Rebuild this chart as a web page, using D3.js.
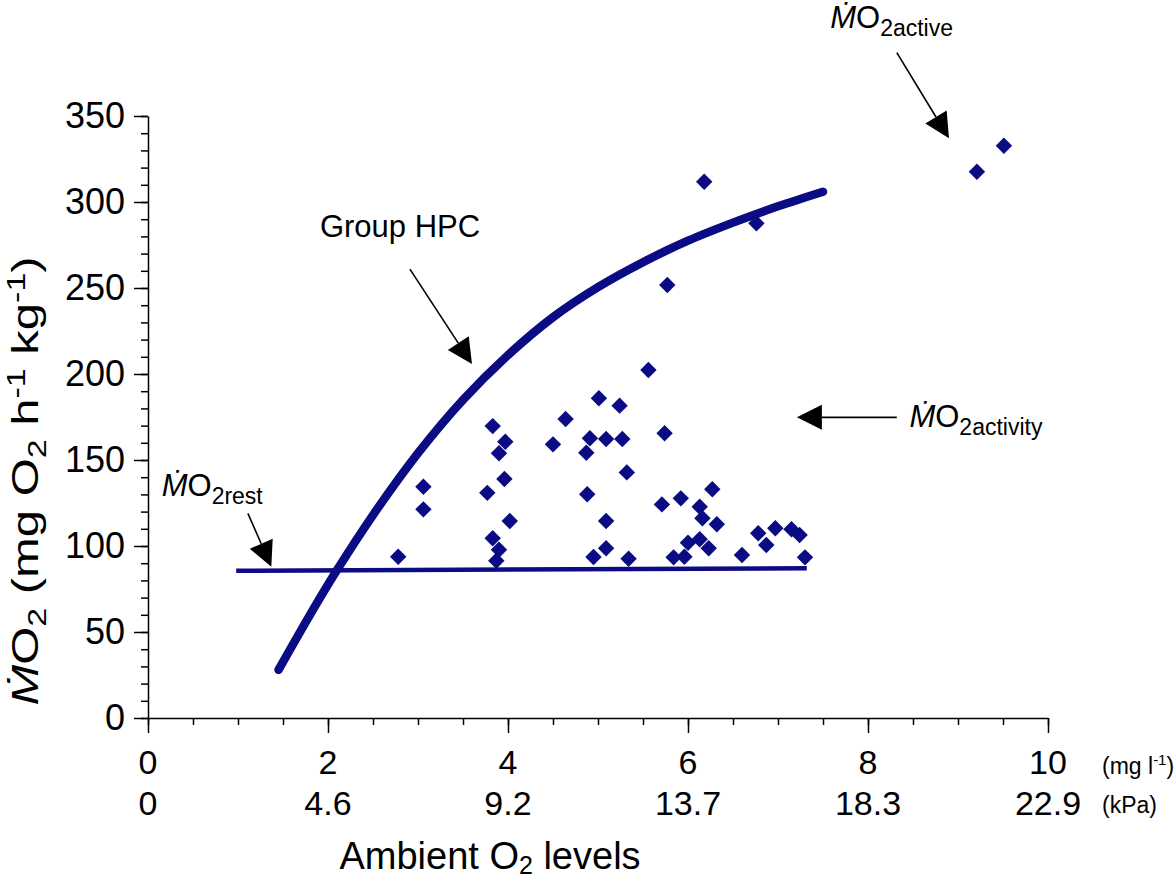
<!DOCTYPE html>
<html>
<head>
<meta charset="utf-8">
<script src="https://cdn.jsdelivr.net/npm/d3@7"></script>
<style>
  body { margin: 0; background: #fff; }
  text { font-family: "Liberation Sans", Arial, sans-serif; fill: #000; }
</style>
</head>
<body>
<svg id="chart" width="1176" height="884"></svg>
<script>
// measured MO2 points (x in mg/l, y in mg O2 h-1 kg-1)
var pointX = [2.78, 3.06, 3.06, 3.83, 3.97, 3.90, 3.96, 3.77, 4.02, 3.83, 3.90, 3.87,
  4.50, 4.64, 5.01, 5.24, 4.91, 5.09, 5.27, 4.87, 4.88, 5.32, 5.09, 5.09, 4.95, 5.34,
  5.56, 5.74, 5.71, 5.92, 6.27, 6.13, 6.16, 6.32, 6.00, 6.13, 6.23, 5.84, 5.96,
  6.60, 6.78, 6.97, 6.87, 7.15, 7.24, 7.30, 6.18, 6.76, 5.77, 9.21, 9.51];
var pointY = [93.8, 134.5, 121.3, 169.7, 160.6, 153.9, 139.0, 130.9, 114.5, 104.5, 97.8, 91.4,
  159.1, 173.8, 185.9, 181.6, 162.6, 162.2, 162.2, 154.2, 130.1, 142.8, 114.5, 98.7, 93.6, 92.6,
  202.3, 165.5, 124.2, 127.7, 133.0, 122.8, 116.1, 112.6, 101.9, 103.9, 98.7, 93.4, 93.8,
  94.8, 107.4, 110.3, 100.6, 109.7, 106.4, 93.4, 311.8, 287.6, 251.7, 317.6, 332.7];

// Group HPC curve
var hpcX = [1.45, 1.8, 2.1, 2.5, 3.0, 3.5, 4.0, 4.5, 5.0, 5.5, 6.0, 6.5, 7.0, 7.5];
var hpcY = [28, 60, 86, 118, 154, 185, 211, 233, 250.5, 265, 277.5, 288, 297.5, 306];

// resting line
var restX = [0.98, 7.32];
var restY = [85.6, 87.0];

// axes
var yTicks = [0, 50, 100, 150, 200, 250, 300, 350];
var xTicks = [0, 2, 4, 6, 8, 10];
var kpaLabels = ["0", "4.6", "9.2", "13.7", "18.3", "22.9"];

// annotation arrows: [tailX, tailY, tipX, tipY] in data units
var arrows = [
  [2.91, 261, 3.60, 205.8],
  [8.32, 386.8, 8.90, 337.0],
  [8.32, 174.8, 7.21, 174.8],
  [1.11, 119.0, 1.37, 88.0]
];
// annotation labels: [x, y, subscript]
var mo2Labels = [
  [7.58, 401, "2active"],
  [8.46, 169.4, "2activity"],
  [0.152, 129, "2rest"]
];

var margin = { top: 116, right: 128, bottom: 166, left: 148 };
var width = 1176 - margin.left - margin.right;
var height = 884 - margin.top - margin.bottom;
var navy = "#0b0b84";

var svg = d3.select("#chart");
var g = svg.append("g")
  .attr("transform", "translate(" + margin.left + "," + margin.top + ")");

var x = d3.scaleLinear().domain([0, 10]).range([0, width]);
var y = d3.scaleLinear().domain([0, 350]).range([height, 0]);

// y axis: minor then major
g.append("g")
  .call(d3.axisLeft(y).tickValues(d3.range(0, 351, 10)).tickSize(7).tickSizeOuter(0).tickFormat(""))
  .call(function (a) { a.select(".domain").remove(); })
  .selectAll("line").attr("stroke-width", 1.5);
var yAxis = g.append("g")
  .call(d3.axisLeft(y).tickValues(yTicks).tickSize(14).tickSizeOuter(0).tickPadding(9));
yAxis.selectAll("line").attr("stroke-width", 1.5);
yAxis.select(".domain").attr("stroke-width", 1.5);
yAxis.selectAll("text").style("font-size", "36px").attr("font-family", null);

// x axis
var xg = g.append("g").attr("transform", "translate(0," + height + ")");
xg.append("g")
  .call(d3.axisBottom(x).tickValues(d3.range(0, 10.01, 0.5)).tickSize(7).tickSizeOuter(0).tickFormat(""))
  .call(function (a) { a.select(".domain").remove(); })
  .selectAll("line").attr("stroke-width", 1.5);
var xAxis = xg.append("g")
  .call(d3.axisBottom(x).tickValues(xTicks).tickSize(15).tickSizeOuter(0).tickFormat(""));
xAxis.selectAll("line").attr("stroke-width", 1.5);
xAxis.select(".domain").attr("stroke-width", 1.5);

xg.selectAll(".mgl")
  .data(xTicks)
  .enter()
  .append("text")
  .attr("x", function (d) { return x(d); })
  .attr("y", 56)
  .attr("text-anchor", "middle")
  .style("font-size", "34px")
  .text(function (d) { return d; });
xg.selectAll(".kpa")
  .data(kpaLabels)
  .enter()
  .append("text")
  .attr("x", function (d, i) { return x(xTicks[i]); })
  .attr("y", 97)
  .attr("text-anchor", "middle")
  .style("font-size", "34px")
  .text(function (d) { return d; });

var unit1 = xg.append("text").attr("x", x(10) + 54).attr("y", 56).style("font-size", "23px");
unit1.append("tspan").text("(mg l");
unit1.append("tspan").attr("dy", -9).style("font-size", "15px").text("-1");
unit1.append("tspan").attr("dy", 9).text(")");
xg.append("text").attr("x", x(10) + 54).attr("y", 95).style("font-size", "23px").text("(kPa)");

// axis titles
var xt = xg.append("text")
  .attr("x", x(3.8))
  .attr("y", 151)
  .attr("text-anchor", "middle")
  .style("font-size", "38px");
xt.append("tspan").text("Ambient O");
xt.append("tspan").attr("dy", 5).style("font-size", "25px").text("2");
xt.append("tspan").attr("dy", -5).text(" levels");

// the original's vertical title is stretched along its length
var yt = svg.append("text")
  .attr("transform", "translate(38,481) rotate(-90) scale(1.36,1)")
  .attr("text-anchor", "middle")
  .style("font-size", "36px");
yt.append("tspan").style("font-style", "italic").text("\u1E40");
yt.append("tspan").text("O");
yt.append("tspan").attr("dy", 8).style("font-size", "25px").text("2");
yt.append("tspan").attr("dy", -8).text(" (mg O");
yt.append("tspan").attr("dy", 8).style("font-size", "25px").text("2");
yt.append("tspan").attr("dy", -8).text(" h");
yt.append("tspan").attr("dy", -13).style("font-size", "25px").text("-1");
yt.append("tspan").attr("dy", 13).text(" kg");
yt.append("tspan").attr("dy", -13).style("font-size", "25px").text("-1");
yt.append("tspan").attr("dy", 13).text(")");

// resting line
var line = d3.line()
  .x(function (d) { return x(d[0]); })
  .y(function (d) { return y(d[1]); });
g.append("path")
  .attr("d", line(d3.zip(restX, restY)))
  .attr("fill", "none")
  .attr("stroke", navy)
  .attr("stroke-width", 4.5);

// HPC curve
g.append("path")
  .attr("d", line.curve(d3.curveCatmullRom)(d3.zip(hpcX, hpcY)))
  .attr("fill", "none")
  .attr("stroke", navy)
  .attr("stroke-width", 8.5)
  .attr("stroke-linecap", "round");

// points
g.selectAll(".pt")
  .data(d3.zip(pointX, pointY))
  .enter()
  .append("path")
  .attr("class", "pt")
  .attr("d", d3.symbol(d3.symbolSquare, 135))
  .attr("transform", function (d) { return "translate(" + x(d[0]) + "," + y(d[1]) + ") rotate(45)"; })
  .attr("fill", navy);

// arrows
arrows.forEach(function (a) {
  var x1 = x(a[0]), y1 = y(a[1]), x2 = x(a[2]), y2 = y(a[3]);
  var dx = x2 - x1, dy = y2 - y1, len = Math.sqrt(dx * dx + dy * dy);
  var ux = dx / len, uy = dy / len, hl = 25, hw = 12.5;
  var bx = x2 - ux * hl, by = y2 - uy * hl;
  g.append("line")
    .attr("x1", x1).attr("y1", y1).attr("x2", bx).attr("y2", by)
    .attr("stroke", "#000").attr("stroke-width", 1.6);
  g.append("polygon")
    .attr("points", [[x2, y2], [bx - uy * hw, by + ux * hw], [bx + uy * hw, by - ux * hw]].join(" "))
    .attr("fill", "#000");
});

// labels
g.append("text")
  .attr("x", x(1.91))
  .attr("y", y(279.8))
  .style("font-size", "31px")
  .text("Group HPC");

mo2Labels.forEach(function (l) {
  var t = g.append("text")
    .attr("x", x(l[0]))
    .attr("y", y(l[1]))
    .style("font-size", "31px");
  t.append("tspan").style("font-style", "italic").text("\u1E40");
  t.append("tspan").text("O");
  t.append("tspan").attr("dy", 8).style("font-size", "23px").text(l[2]);
});
</script>
</body>
</html>
